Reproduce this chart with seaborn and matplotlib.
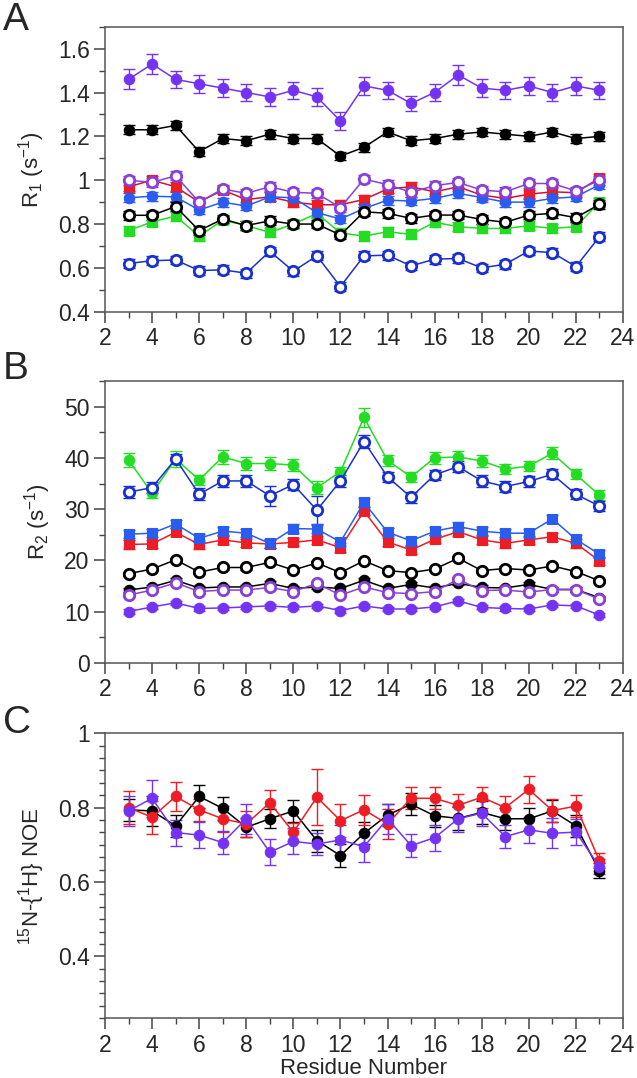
import numpy as np
import matplotlib
matplotlib.use("Agg")
import matplotlib.pyplot as plt
import seaborn as sns
from matplotlib.ticker import MultipleLocator

residues = list(range(3, 24))

# ---------- Panel A: R1 ----------
r1_purple_filled = [1.46, 1.53, 1.46, 1.44, 1.42, 1.40, 1.38, 1.41, 1.38, 1.27, 1.43, 1.41, 1.35, 1.40, 1.48, 1.42, 1.41, 1.43, 1.40, 1.43, 1.41]
r1_black_filled = [1.23, 1.23, 1.25, 1.13, 1.19, 1.18, 1.21, 1.19, 1.19, 1.11, 1.15, 1.22, 1.18, 1.19, 1.21, 1.22, 1.21, 1.20, 1.22, 1.19, 1.20]
r1_purple_open = [1.00, 0.99, 1.02, 0.90, 0.96, 0.94, 0.97, 0.945, 0.94, 0.875, 1.005, 0.98, 0.945, 0.975, 0.99, 0.955, 0.947, 0.985, 0.985, 0.951, 1.00]
r1_red = [0.97, 1.00, 0.97, 0.90, 0.955, 0.912, 0.924, 0.90, 0.888, 0.888, 0.912, 0.96, 0.97, 0.947, 0.97, 0.932, 0.917, 0.936, 0.947, 0.943, 1.01]
r1_blue_filled = [0.92, 0.927, 0.924, 0.864, 0.90, 0.882, 0.924, 0.92, 0.852, 0.823, 0.871, 0.909, 0.905, 0.917, 0.94, 0.921, 0.90, 0.90, 0.917, 0.924, 0.98]
r1_black_open = [0.84, 0.84, 0.88, 0.77, 0.823, 0.793, 0.815, 0.80, 0.80, 0.75, 0.856, 0.849, 0.826, 0.841, 0.841, 0.821, 0.808, 0.841, 0.849, 0.829, 0.89]
r1_green = [0.77, 0.81, 0.836, 0.745, 0.818, 0.793, 0.762, 0.80, 0.848, 0.76, 0.745, 0.765, 0.753, 0.808, 0.788, 0.78, 0.78, 0.792, 0.78, 0.788, 0.90]
r1_blue_open = [0.62, 0.633, 0.636, 0.588, 0.591, 0.576, 0.676, 0.585, 0.655, 0.515, 0.655, 0.658, 0.609, 0.64, 0.643, 0.60, 0.617, 0.677, 0.67, 0.606, 0.742]

r1_err_purple_filled = [0.045, 0.045, 0.04, 0.04, 0.04, 0.04, 0.04, 0.04, 0.04, 0.04, 0.04, 0.04, 0.035, 0.04, 0.045, 0.04, 0.04, 0.04, 0.04, 0.04, 0.04]
r1_err_small = [0.02] * 21

# ---------- Panel B: R2 ----------
r2_green = [39.6, 33.1, 39.8, 35.7, 40.2, 38.9, 38.9, 38.6, 34.2, 37.3, 47.9, 39.5, 36.3, 40.0, 40.2, 39.4, 37.8, 38.4, 40.9, 36.8, 32.7]
r2_blue_open = [33.3, 34.2, 39.8, 32.9, 35.5, 35.5, 32.6, 34.8, 29.8, 35.5, 43.2, 36.3, 32.3, 36.7, 38.3, 35.5, 34.4, 35.4, 36.8, 32.9, 30.6]
r2_blue_filled = [25.1, 25.3, 27.1, 24.3, 25.7, 25.3, 23.3, 26.2, 26.1, 23.6, 31.3, 25.5, 23.8, 25.7, 26.6, 25.7, 25.3, 25.3, 28.1, 24.1, 21.2]
r2_red = [23.1, 23.2, 25.5, 23.1, 24.0, 23.4, 23.2, 23.5, 24.0, 22.5, 29.6, 23.6, 22.0, 24.1, 25.6, 24.0, 23.3, 24.0, 24.6, 23.3, 19.9]
r2_black_open = [17.4, 18.3, 20.1, 17.7, 18.6, 18.6, 19.6, 18.1, 19.5, 17.6, 19.9, 18.0, 17.6, 18.3, 20.4, 18.0, 18.4, 18.1, 18.9, 17.8, 16.0]
r2_black_filled = [14.2, 14.8, 16.1, 14.6, 14.8, 14.8, 15.5, 14.5, 14.8, 14.5, 16.1, 14.5, 15.3, 14.6, 15.5, 14.7, 14.6, 15.3, 14.3, 14.3, 12.7]
r2_purple_open = [13.2, 14.2, 15.6, 13.9, 14.2, 14.2, 14.7, 13.9, 15.5, 13.2, 14.8, 13.7, 13.5, 13.9, 16.3, 14.1, 14.2, 13.8, 14.3, 14.3, 12.4]
r2_purple_filled = [10.0, 10.9, 11.7, 10.6, 10.7, 10.9, 11.1, 10.8, 11.1, 10.2, 11.1, 10.5, 10.5, 10.9, 12.1, 10.8, 10.6, 10.5, 11.3, 11.1, 9.3]

r2_err_green = [1.3, 1.0, 1.5, 1.0, 1.3, 1.2, 1.3, 1.2, 1.2, 1.0, 1.8, 1.0, 1.0, 1.2, 1.2, 1.2, 1.0, 1.0, 1.2, 1.0, 1.0]
r2_err_blue_open = [1.2, 1.0, 1.0, 1.2, 1.1, 1.1, 2.0, 1.1, 2.8, 1.2, 1.2, 1.0, 1.1, 1.0, 1.0, 1.1, 1.0, 1.0, 1.0, 1.0, 1.0]
r2_err_medium = [0.8] * 21
r2_err_small = [0.4] * 21

# ---------- Panel C: NOE ----------
noe_black = [0.794, 0.791, 0.751, 0.83, 0.798, 0.747, 0.77, 0.791, 0.711, 0.671, 0.731, 0.78, 0.809, 0.778, 0.771, 0.787, 0.77, 0.77, 0.791, 0.751, 0.63]
noe_red = [0.80, 0.774, 0.83, 0.794, 0.77, 0.756, 0.813, 0.734, 0.828, 0.765, 0.794, 0.756, 0.825, 0.825, 0.806, 0.828, 0.80, 0.849, 0.792, 0.804, 0.657]
noe_purple = [0.791, 0.825, 0.733, 0.726, 0.706, 0.77, 0.68, 0.709, 0.702, 0.713, 0.695, 0.77, 0.698, 0.719, 0.77, 0.785, 0.722, 0.74, 0.731, 0.734, 0.641]
noe_err_black = [0.03, 0.04, 0.03, 0.03, 0.03, 0.025, 0.025, 0.03, 0.03, 0.03, 0.03, 0.03, 0.03, 0.03, 0.03, 0.03, 0.03, 0.03, 0.03, 0.03, 0.02]
noe_err_red = [0.045, 0.045, 0.04, 0.03, 0.035, 0.035, 0.035, 0.025, 0.075, 0.045, 0.04, 0.04, 0.03, 0.03, 0.03, 0.028, 0.03, 0.037, 0.03, 0.03, 0.02]
noe_err_purple = [0.04, 0.05, 0.035, 0.035, 0.03, 0.04, 0.035, 0.035, 0.03, 0.04, 0.04, 0.04, 0.03, 0.035, 0.035, 0.035, 0.03, 0.035, 0.04, 0.035, 0.02]

# colours
PURPLE = "#7433f2"
PURPLE_OPEN = "#8a3fd8"
BLACK = "#000000"
RED = "#ee1c24"
BLUE = "#2a5cf0"
BLUE_DARK = "#1a2fcf"
GREEN = "#22dd22"

sns.set_theme(style="white")
plt.rcParams["font.family"] = ["Liberation Sans", "DejaVu Sans"]
plt.rcParams["mathtext.fontset"] = "custom"
plt.rcParams["mathtext.rm"] = "Liberation Sans"
plt.rcParams["mathtext.it"] = "Liberation Sans"

fig = plt.figure(figsize=(6.37, 10.78), dpi=100)
L, W = 0.1648, 0.8132
axA = fig.add_axes([L, 0.7108, W, 0.2644])
axB = fig.add_axes([L, 0.3852, W, 0.2613])
axC = fig.add_axes([L, 0.0554, W, 0.2644])


def series(ax, y, err, color, marker, filled, lc=None):
    lc = lc or color
    ax.errorbar(residues, y, yerr=err, fmt="none", ecolor=color, elinewidth=1.0,
                capsize=4, capthick=1.0, zorder=2)
    kw = dict(marker=marker, markersize=7.5, color=lc, linewidth=1.1,
              markeredgecolor=color, zorder=3)
    if filled:
        kw.update(markerfacecolor=color, markeredgewidth=0.8)
    else:
        kw.update(markerfacecolor="white", markeredgewidth=2.0)
    sns.lineplot(x=residues, y=y, ax=ax, legend=False, **kw)


# Panel A
series(axA, r1_green, r1_err_small, GREEN, "s", True)
series(axA, r1_red, r1_err_small, RED, "s", True, lc="#d01040")
series(axA, r1_blue_filled, r1_err_small, BLUE, "o", True)
series(axA, r1_black_open, r1_err_small, BLACK, "o", False)
series(axA, r1_purple_open, r1_err_small, PURPLE_OPEN, "o", False)
series(axA, r1_blue_open, r1_err_small, BLUE_DARK, "o", False)
series(axA, r1_black_filled, r1_err_small, BLACK, "o", True)
series(axA, r1_purple_filled, r1_err_purple_filled, PURPLE, "o", True)

# Panel B
series(axB, r2_green, r2_err_green, GREEN, "o", True)
series(axB, r2_blue_open, r2_err_blue_open, BLUE_DARK, "o", False)
series(axB, r2_red, r2_err_medium, RED, "s", True)
series(axB, r2_blue_filled, r2_err_medium, BLUE, "s", True)
series(axB, r2_black_open, r2_err_small, BLACK, "o", False)
series(axB, r2_black_filled, r2_err_small, BLACK, "o", True)
series(axB, r2_purple_open, r2_err_small, PURPLE_OPEN, "o", False)
series(axB, r2_purple_filled, r2_err_small, PURPLE, "o", True)

# Panel C
series(axC, noe_black, noe_err_black, BLACK, "o", True)
series(axC, noe_red, noe_err_red, RED, "o", True)
series(axC, noe_purple, noe_err_purple, PURPLE, "o", True)

FS = 16.5
LFS = 16
for ax in (axA, axB, axC):
    ax.set_xlim(2, 24)
    ax.xaxis.set_major_locator(MultipleLocator(2))
    ax.xaxis.set_minor_locator(MultipleLocator(1))
    ax.tick_params(which="major", direction="out", length=8, width=1.1, color="#444444",
                   labelsize=FS, pad=3, bottom=True, left=True, top=False, right=False)
    ax.tick_params(which="minor", direction="out", length=4.5, width=1.0, color="#444444",
                   bottom=True, left=True, top=False, right=False)
    for s in ax.spines.values():
        s.set_color("#555555")
        s.set_linewidth(1.1)
    ax.set_xlabel("")
    ax.set_facecolor("white")

axA.set_ylim(0.4, 1.7)
axA.set_yticks([0.4, 0.6, 0.8, 1.0, 1.2, 1.4, 1.6])
axA.set_yticklabels(["0.4", "0.6", "0.8", "1", "1.2", "1.4", "1.6"])
axA.yaxis.set_minor_locator(MultipleLocator(0.1))
axA.set_ylabel(r"R$_1$ (s$^{\mathregular{-1}}$)", fontsize=LFS, labelpad=8)

axB.set_ylim(0, 55)
axB.set_yticks([0, 10, 20, 30, 40, 50])
axB.yaxis.set_minor_locator(MultipleLocator(5))
axB.set_ylabel(r"R$_2$ (s$^{\mathregular{-1}}$)", fontsize=LFS, labelpad=8)

axC.set_ylim(0.2333, 1.0)
axC.set_yticks([0.4, 0.6, 0.8, 1.0])
axC.set_yticklabels(["0.4", "0.6", "0.8", "1"])
axC.yaxis.set_minor_locator(MultipleLocator(0.2 / 6))
axC.set_ylabel(r"$^{\mathregular{15}}$N-{$^{\mathregular{1}}$H} NOE", fontsize=LFS, labelpad=8)
axC.set_xlabel("Residue Number", fontsize=LFS, labelpad=1)

for lab, y in (("A", 0.998), ("B", 0.674), ("C", 0.346)):
    fig.text(0.005, y, lab, fontsize=28, va="top", ha="left")

fig.savefig("out.png", dpi=100, facecolor="white")
